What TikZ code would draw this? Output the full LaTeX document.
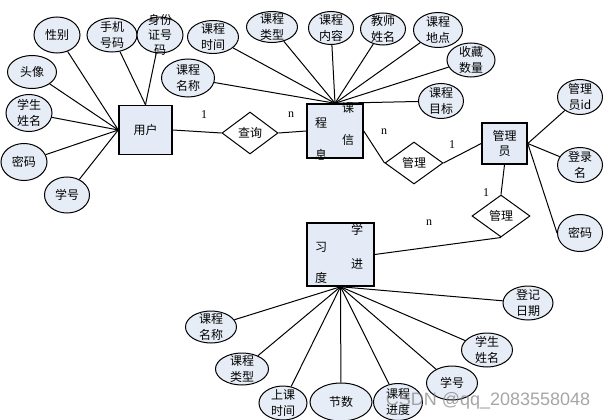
\documentclass[tikz,border=0pt]{standalone}
\usepackage{fontspec}
\setmainfont{Liberation Serif}
\newfontfamily\cjk{Noto Sans CJK SC}
\newfontfamily\wmfont{Liberation Sans}
\usetikzlibrary{shapes.geometric}
\definecolor{AttrClr}{RGB}{231,237,247}
\definecolor{EntClr}{RGB}{228,235,246}

\begin{document}
\begin{tikzpicture}[x=1pt,y=-1pt,
  attr/.style={ellipse,draw,line width=1pt,fill=AttrClr,inner sep=0pt},
  ent/.style={rectangle,draw,line width=1.5pt,fill=EntClr,inner sep=0pt,align=center,
    font=\cjk\fontsize{12}{15.5}\selectfont},
  rel/.style={diamond,draw,line width=1pt,fill=white,inner sep=0pt,
    font=\cjk\fontsize{12}{15}\selectfont},
  link/.style={line width=1pt},
  card/.style={font=\fontsize{12}{14}\selectfont,inner sep=0pt},
  ch/.style={font=\cjk\fontsize{12}{14}\selectfont,inner sep=0pt},
  every label/.style={align=center,inner sep=0pt,font=\cjk\fontsize{12}{15.5}\selectfont}]
\useasboundingbox (0,0) rectangle (608,420);

% entities
\node[ent,minimum width=53pt,minimum height=49pt] (user) at (145.5,130) {用户};
\node[ent,minimum width=56pt,minimum height=54pt] (course) at (335,131) {};
\node[ent,minimum width=45pt,minimum height=41pt] (admin) at (504.5,143.5) {管理\\员};
\node[ent,minimum width=67pt,minimum height=63pt] (progress) at (340.5,254.5) {};
\node[ch] (c1) at (348,108) {课};
\node[ch] (c2) at (321,123) {程};
\node[ch] (c3) at (348,140) {信};
\node[ch] (c4) at (321,155) {息};
\node[ch] (p1) at (357,230) {学};
\node[ch] (p2) at (321,247) {习};
\node[ch] (p3) at (357,264) {进};
\node[ch] (p4) at (321,278) {度};

% relations
\node[rel,minimum width=56pt,minimum height=42pt] (query) at (250,133) {查询};
\node[rel,minimum width=58pt,minimum height=42pt] (manage1) at (414,163) {管理};
\node[rel,minimum width=58pt,minimum height=42pt] (manage2) at (501,216) {管理};

% user attributes
\node[attr,minimum width=46pt,minimum height=36pt,label=center:性别] (uSex) at (57,35) {};
\node[attr,minimum width=50pt,minimum height=34pt,label=center:{手机\\号码}] (uPhone) at (112,35) {};
\node[attr,minimum width=46pt,minimum height=36pt,label={[font=\cjk\fontsize{12}{15}\selectfont]center:{身份\\证号\\码}}] (uId) at (160,35) {};
\node[attr,minimum width=49pt,minimum height=33pt,label=center:头像] (uHead) at (32,72) {};
\node[attr,minimum width=46pt,minimum height=37pt,label=center:{学生\\姓名}] (uName) at (29,113) {};
\node[attr,minimum width=46pt,minimum height=37pt,label=center:密码] (uPwd) at (24,162) {};
\node[attr,minimum width=45pt,minimum height=36pt,label=center:学号] (uNo) at (67,195) {};

% course attributes
\node[attr,minimum width=51pt,minimum height=31pt,label=center:{课程\\类型}] (cType) at (272,27) {};
\node[attr,minimum width=51pt,minimum height=33pt,label=center:{课程\\时间}] (cTime) at (213,37) {};
\node[attr,minimum width=53pt,minimum height=38pt,label=center:{课程\\名称}] (cName) at (188,78) {};
\node[attr,minimum width=45pt,minimum height=33pt,label=center:{课程\\内容}] (cContent) at (331,28) {};
\node[attr,minimum width=45pt,minimum height=32pt,label=center:{教师\\姓名}] (cTeacher) at (383,29) {};
\node[attr,minimum width=49pt,minimum height=35pt,label=center:{课程\\地点}] (cPlace) at (438,30) {};
\node[attr,minimum width=48pt,minimum height=34pt,label=center:{收藏\\数量}] (cFav) at (471,60) {};
\node[attr,minimum width=45pt,minimum height=35pt,label=center:{课程\\目标}] (cGoal) at (441,101) {};

% admin attributes
\node[attr,minimum width=45pt,minimum height=35pt,label=center:{管理\\员id}] (aId) at (580,97) {};
\node[attr,minimum width=45pt,minimum height=35pt,label=center:{登录\\名}] (aLogin) at (580,165) {};
\node[attr,minimum width=45pt,minimum height=37pt,label=center:密码] (aPwd) at (580,233) {};

% progress attributes
\node[attr,minimum width=50pt,minimum height=34pt,label=center:{登记\\日期}] (pDate) at (528,303) {};
\node[attr,minimum width=51pt,minimum height=32pt,label=center:{课程\\名称}] (pName) at (211,327) {};
\node[attr,minimum width=53pt,minimum height=32pt,label=center:{课程\\类型}] (pType) at (242,369) {};
\node[attr,minimum width=48pt,minimum height=34pt,label=center:{上课\\时间}] (pTime) at (283,403) {};
\node[attr,minimum width=62pt,minimum height=38pt,label=center:节数] (pNum) at (341,402) {};
\node[attr,minimum width=49pt,minimum height=37pt,label=center:{课程\\进度}] (pProg) at (398,402) {};
\node[attr,minimum width=51pt,minimum height=34pt,label=center:学号] (pNo) at (452,383) {};
\node[attr,minimum width=51pt,minimum height=34pt,label=center:{学生\\姓名}] (pStu) at (487,350) {};

% connectors
\foreach \a in {uSex,uHead,uName,uPwd,uNo} \draw[link] (user.west) -- (\a);
\foreach \a in {uPhone,uId} \draw[link] (user.north) -- (\a);
\foreach \a in {cType,cTime,cName,cContent,cTeacher,cPlace,cFav,cGoal} \draw[link] (course.north) -- (\a);
\foreach \a in {aId,aLogin} \draw[link] (admin.east) -- (\a);
\draw[link] (admin.east) -- (aPwd.west);
\foreach \a in {pDate,pName,pType,pTime,pNum,pProg,pNo,pStu} \draw[link] (progress.south) -- (\a);

\draw[link] (user.east) -- (query.west);
\draw[link] (query.east) -- (course.west);
\draw[link] (course.east) -- (manage1.west);
\draw[link] (manage1.east) -- (admin.west);
\draw[link] (admin.south) -- (manage2.north);
\draw[link] (manage2.south) -- (progress.east);

% cardinalities
\node[card] (k1) at (204,115) {1};
\node[card] (k2) at (291,115) {n};
\node[card] (k3) at (384,132) {n};
\node[card] (k4) at (452,145) {1};
\node[card] (k5) at (486,193) {1};
\node[card] (k6) at (429,223) {n};

% watermark
\node[text=gray,opacity=.7,font=\wmfont\fontsize{18}{20}\selectfont,inner sep=0pt] (mark) at (488,401) {CSDN @qq\_2083558048};
\end{tikzpicture}
\end{document}
